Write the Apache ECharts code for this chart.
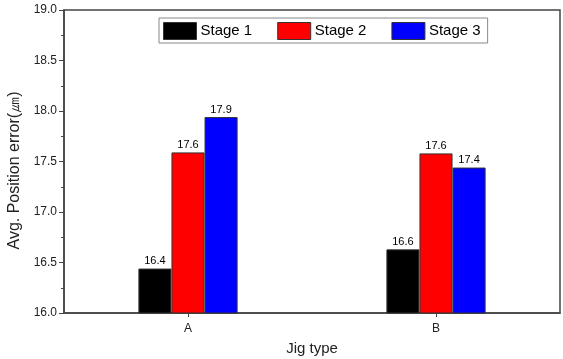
<!DOCTYPE html>
<html><head><meta charset="utf-8">
<script src="https://cdn.jsdelivr.net/npm/echarts@6/dist/echarts.min.js"></script>
<style>html,body{margin:0;padding:0;background:#fff}#c{width:563px;height:359px}</style>
</head><body><div id="c"></div>
<script>
const categories = ['A', 'B'];
const seriesNames = ['Stage 1', 'Stage 2', 'Stage 3'];
const stage1 = [16.44, 16.63];
const stage2 = [17.59, 17.58];
const stage3 = [17.94, 17.44];
const colors = ['#000000', '#ff0000', '#0000ff'];
const yTicks = [16.0, 16.5, 17.0, 17.5, 18.0, 18.5, 19.0];

const font = 'Arial, "Liberation Sans", sans-serif';
const chart = echarts.init(document.getElementById('c'));
const mk = (name, data, color) => ({
  name, type: 'bar', data, barGap: '0%', barCategoryGap: '60%',
  itemStyle: { color, borderColor: '#333', borderWidth: 1 },
  label: { show: true, position: 'top', distance: 2, color: '#000', fontSize: 11, fontFamily: font,
    formatter: p => p.value.toFixed(1) }
});
chart.setOption({
  animation: false,
  grid: { left: 64, right: 3, top: 10, bottom: 46, containLabel: false, outerBoundsMode: 'none',
    show: true, borderColor: '#444', borderWidth: 1.5, backgroundColor: 'transparent' },
  legend: {
    left: 159, top: 18, padding: [4, 7, 3, 4], itemWidth: 33, itemHeight: 17, itemGap: 25, icon: 'rect',
    borderColor: '#888', borderWidth: 1, backgroundColor: '#fff',
    textStyle: { fontSize: 15, fontFamily: font, color: '#000', padding: [0,0,0,-1] },
    data: seriesNames.map((n, i) => ({ name: n, icon: 'rect', itemStyle: { color: colors[i], borderColor: '#333', borderWidth: 1 } }))
  },
  xAxis: {
    type: 'category', data: categories,
    name: 'Jig type', nameLocation: 'middle', nameGap: 28,
    nameTextStyle: { fontSize: 15, fontFamily: font, color: '#222' },
    axisLine: { lineStyle: { color: '#444', width: 1.5 } },
    axisTick: { show: true, alignWithLabel: true, length: 4, lineStyle: { color: '#444' } },
    axisLabel: { fontSize: 12, fontFamily: font, color: '#222', margin: 10 }
  },
  yAxis: {
    type: 'value', min: 16, max: 19, interval: 0.5,
    name: 'Avg. Position error(㎛)', nameLocation: 'middle', nameGap: 40,
    nameTextStyle: { fontSize: 16, fontFamily: font, color: '#222', padding: [0, 18, 0, 0] },
    axisLine: { show: true, lineStyle: { color: '#444', width: 1.5 } },
    axisTick: { show: true, length: 5, lineStyle: { color: '#444' } },
    minorTick: { show: true, splitNumber: 2, length: 3, lineStyle: { color: '#444' } },
    splitLine: { show: false },
    axisLabel: { fontSize: 12, fontFamily: font, color: '#222', margin: 7,
      formatter: v => v.toFixed(1) }
  },
  series: [mk(seriesNames[0], stage1, colors[0]), mk(seriesNames[1], stage2, colors[1]), mk(seriesNames[2], stage3, colors[2])]
});
</script></body></html>
